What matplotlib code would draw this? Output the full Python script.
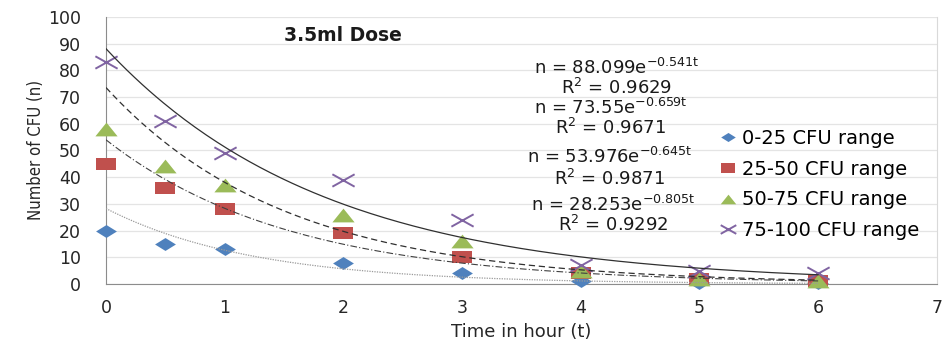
import matplotlib
matplotlib.use("Agg")
import matplotlib.pyplot as plt
import numpy as np
from matplotlib.path import Path

# sampling times (hours) and CFU counts per range
t = [0, 0.5, 1, 2, 3, 4, 5, 6]
cfu_0_25 = [20, 15, 13, 8, 4, 1, 0.5, 0.5]
cfu_25_50 = [45, 36, 28, 19, 10, 4, 2, 1]
cfu_50_75 = [58, 44, 37, 26, 16, 5, 2, 1]
cfu_75_100 = [83, 61, 49, 39, 24, 7, 5, 4]

labels = ["0-25 CFU range", "25-50 CFU range", "50-75 CFU range", "75-100 CFU range"]

# exponential trendlines n = a * exp(b t)
fit_a = ["88.099", "73.55", "53.976", "28.253"]
fit_b = ["-0.541", "-0.659", "-0.645", "-0.805"]
fit_r2 = ["0.9629", "0.9671", "0.9871", "0.9292"]

# flattened marker shapes
sq = 0.62
diamond = Path([(-1, 0), (0, sq), (1, 0), (0, -sq), (-1, 0)])
square = Path([(-1, -sq), (1, -sq), (1, sq), (-1, sq), (-1, -sq)])
triangle = Path([(-1, -sq), (1, -sq), (0, sq), (-1, -sq)])
cross = Path([(-1, -sq * 0.9), (1, sq * 0.9), (-1, sq * 0.9), (1, -sq * 0.9)],
             [Path.MOVETO, Path.LINETO, Path.MOVETO, Path.LINETO])

plt.rcParams['font.family'] = ['DejaVu Sans']

fig = plt.figure(figsize=(9.42, 3.45), dpi=100)
ax = fig.add_axes([0.1125, 0.177, 0.882, 0.774])

series = [
    (cfu_0_25, '#4F81BD', diamond, 15),
    (cfu_25_50, '#C0504D', square, 15),
    (cfu_50_75, '#9BBB59', triangle, 16),
    (cfu_75_100, '#8064A2', cross, 16),
]
for (vals, col, mk, ms), lab in zip(series, labels):
    if mk is cross:
        ax.plot(t, vals, linestyle='none', marker=mk, markersize=ms,
                markerfacecolor='none', markeredgecolor=col, markeredgewidth=1.4,
                label=lab, zorder=3, clip_on=False)
    else:
        ax.plot(t, vals, linestyle='none', marker=mk, markersize=ms,
                markerfacecolor=col, markeredgecolor=col, markeredgewidth=0,
                label=lab, zorder=3, clip_on=False)

tt = np.linspace(0, 6, 200)
styles = [
    dict(color='#303030', linestyle='-', linewidth=0.9),
    dict(color='#303030', linestyle=(0, (5, 3)), linewidth=0.9),
    dict(color='#404040', linestyle=(0, (6, 2, 1, 2)), linewidth=0.8),
    dict(color='#9a9a9a', linestyle=(0, (1, 1)), linewidth=0.9),
]
for a, b, st in zip(fit_a, fit_b, styles):
    ax.plot(tt, float(a) * np.exp(float(b) * tt), zorder=4, **st)

# equation labels
eq_pos = [(4.3, 81, 73.4), (4.25, 66, 58.4), (4.24, 47.6, 39.3), (4.27, 29.6, 22)]
for (x, y1, y2), a, b, r2 in zip(eq_pos, fit_a, fit_b, fit_r2):
    ax.text(x, y1, r'n = %se$\mathregular{^{%st}}$' % (a, b),
            ha='center', va='center', fontsize=13, color='#1a1a1a')
    ax.text(x, y2, r'R$\mathregular{^2}$ = ' + r2, ha='center', va='center',
            fontsize=13, color='#1a1a1a')

ax.text(2.0, 93, '3.5ml Dose', ha='center', va='center', fontsize=13.5,
        fontweight='bold', color='#1a1a1a')

ax.set_xlim(0, 7)
ax.set_ylim(0, 100)
ax.set_xticks(range(0, 8))
ax.set_yticks(range(0, 101, 10))
ax.tick_params(length=0, labelsize=12.5, colors='#262626')
ax.tick_params(axis='y', pad=18)
ax.tick_params(axis='x', pad=11)
ax.yaxis.grid(True, color='#e4e4e4', linewidth=0.9)
ax.set_axisbelow(True)
ax.spines['top'].set_visible(False)
ax.spines['left'].set_color('#8c8c8c')
ax.spines['bottom'].set_color('#8c8c8c')
ax.spines['right'].set_color('#d9d9d9')

ax.set_xlabel('Time in hour (t)', fontsize=13, color='#262626', labelpad=4)
ax.set_ylabel('Number of CFU (n)', fontsize=12, color='#262626',
              family=['Liberation Sans Narrow', 'DejaVu Sans'], stretch='condensed',
              labelpad=2)

ax.legend(loc='upper left', bbox_to_anchor=(0.738, 0.58), frameon=False,
          fontsize=14, markerscale=0.7, handlelength=0.9, handletextpad=0.3,
          labelspacing=0.6, borderpad=0, borderaxespad=0)

fig.savefig('out.png', dpi=100)
